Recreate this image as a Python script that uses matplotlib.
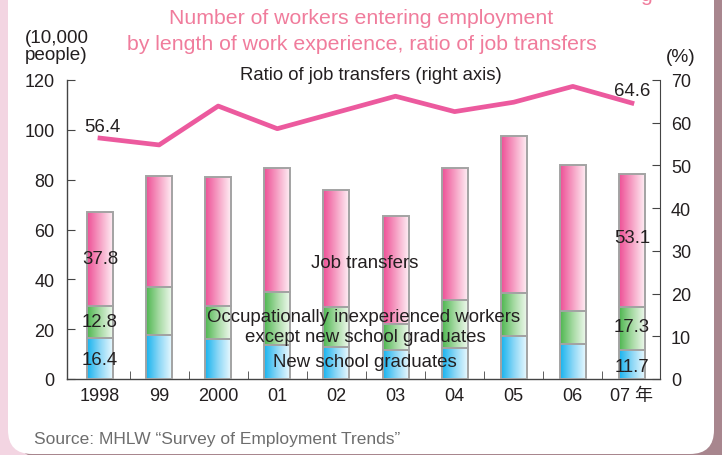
import numpy as np
import matplotlib.pyplot as plt
from matplotlib.colors import LinearSegmentedColormap
from matplotlib.patches import FancyBboxPatch

plt.rcParams['font.family'] = ['Liberation Sans', 'Noto Sans CJK JP']

years = ['1998', '99', '2000', '01', '02', '03', '04', '05', '06', '07 年']
new_grads = [16.4, 17.8, 16.1, 13.8, 12.7, 11.6, 12.3, 17.4, 14.0, 11.7]
inexperienced = [12.8, 19.0, 13.2, 21.0, 16.1, 10.5, 19.4, 17.0, 13.2, 17.3]
transfers = [37.8, 44.5, 51.8, 49.7, 47.2, 43.2, 52.8, 63.0, 58.7, 53.1]
ratio = [56.4, 54.8, 63.9, 58.6, 62.4, 66.2, 62.6, 64.8, 68.5, 64.6]

W, H = 722, 456
fig = plt.figure(figsize=(W / 100, H / 100), dpi=100)
fig.patch.set_facecolor('#f3d5e2')


def fx(px):
    return px / W


def fy(py):
    return 1 - py / H


# card background with a dark shadow on the right
shadow = FancyBboxPatch((16, -2), 760, 520, boxstyle='round,pad=0,rounding_size=24',
                        transform=None, fc='#a8868e', ec='none', zorder=-3)
card = FancyBboxPatch((8, 1), 706, 520, boxstyle='round,pad=0,rounding_size=24',
                      transform=None, fc='white', ec='none', zorder=-2)
fig.add_artist(shadow)
fig.add_artist(card)

ax = fig.add_axes([fx(67), fy(380), fx(660) - fx(67), (380 - 81) / H])
ax.set_facecolor('none')
x = np.arange(len(years))

pink = LinearSegmentedColormap.from_list('p', ['#ee4f96', '#f6a3c6', '#fff4f8'])
green = LinearSegmentedColormap.from_list('g', ['#4db64f', '#a9dba6', '#f4fbf3'])
blue = LinearSegmentedColormap.from_list('b', ['#16b3ee', '#8fd8f6', '#f0fbff'])
grad = np.linspace(0, 1, 256).reshape(1, -1)

bottom = np.zeros(len(years))
for vals, cmap in [(new_grads, blue), (inexperienced, green), (transfers, pink)]:
    bars = ax.bar(x, vals, 0.44, bottom=bottom, color='none', edgecolor='#a3a3a3',
                  linewidth=1.4, zorder=3)
    for b in bars:
        im = ax.imshow(grad, cmap=cmap, aspect='auto', zorder=2,
                       extent=[b.get_x(), b.get_x() + b.get_width(),
                               b.get_y(), b.get_y() + b.get_height()])
        im.set_clip_path(b)
    bottom = bottom + np.array(vals)

ax.set_xlim(-0.558, 9.475)
ax.set_ylim(0, 120)
ax.set_yticks(range(0, 121, 20))
ax.set_xticks(x)
ax.set_xticklabels(years)
ax.set_xticks(x[:-1] + 0.5, minor=True)
for s in ['top', 'right']:
    ax.spines[s].set_visible(False)
for s in ['left', 'bottom']:
    ax.spines[s].set_color('#444444')
    ax.spines[s].set_linewidth(1.0)
ax.tick_params(axis='y', direction='in', length=6, labelsize=13, pad=9,
               color='#444444', labelcolor='#231f20')
ax.tick_params(axis='x', which='major', length=0, labelsize=13, pad=6,
               labelcolor='#231f20')
ax.tick_params(axis='x', which='minor', direction='in', length=6, color='#444444')

ax2 = ax.twinx()
ax2.set_ylim(0, 70)
ax2.set_yticks(range(0, 71, 10))
for s in ['top', 'left', 'bottom']:
    ax2.spines[s].set_visible(False)
ax2.spines['right'].set_color('#444444')
ax2.tick_params(axis='y', direction='in', length=6, labelsize=13, pad=8,
                color='#444444', labelcolor='#231f20')
ax2.plot(x, ratio, color='#ec5a9e', linewidth=3.4, zorder=5)

tc = '#231f20'
vs = 13.4
# value labels
ax.text(0, 48.2, '37.8', ha='center', va='center', fontsize=vs, color=tc, zorder=6)
ax.text(0, 22.9, '12.8', ha='center', va='center', fontsize=vs, color=tc, zorder=6)
ax.text(0, 8.0, '16.4', ha='center', va='center', fontsize=vs, color=tc, zorder=6)
ax.text(9, 56.6, '53.1', ha='center', va='center', fontsize=vs, color=tc, zorder=6)
ax.text(9, 20.9, '17.3', ha='center', va='center', fontsize=vs, color=tc, zorder=6)
ax.text(9, 5.2, '11.7', ha='center', va='center', fontsize=vs, color=tc, zorder=6)

fig.text(fx(102), fy(128), '56.4', ha='center', va='center', fontsize=vs, color=tc)
fig.text(fx(632), fy(92), '64.6', ha='center', va='center', fontsize=vs, color=tc)
fig.text(fx(371), fy(76), 'Ratio of job transfers (right axis)', ha='center', va='center',
         fontsize=13.3, color=tc)
fig.text(fx(365), fy(264), 'Job transfers', ha='center', va='center', fontsize=13.4, color=tc)
fig.text(fx(364), fy(317), 'Occupationally inexperienced workers', ha='center', va='center',
         fontsize=13.4, color=tc)
fig.text(fx(365), fy(337), 'except new school graduates', ha='center', va='center',
         fontsize=13.4, color=tc)
fig.text(fx(365), fy(363), 'New school graduates', ha='center', va='center',
         fontsize=13.4, color=tc)

fig.text(fx(25), fy(47), '(10,000\npeople)', ha='left', va='center', fontsize=13.6,
         linespacing=0.95, color=tc)
fig.text(fx(681), fy(58), '(%)', ha='center', va='center', fontsize=13.8, color=tc)

title_c = '#f07c9c'
fig.text(fx(361), fy(19), 'Number of workers entering employment', ha='center', va='center',
         fontsize=15.3, color=title_c)
fig.text(fx(362), fy(45), 'by length of work experience, ratio of job transfers',
         ha='center', va='center', fontsize=15.3, color=title_c)
fig.text(fx(646), fy(1), 'g', ha='center', va='baseline', fontsize=15.3, color=title_c)

fig.text(fx(34), fy(440), 'Source: MHLW “Survey of Employment Trends”', ha='left',
         va='center', fontsize=12.5, color='#6d6d6d')

fig.savefig('out.png', dpi=100, facecolor=fig.get_facecolor())
